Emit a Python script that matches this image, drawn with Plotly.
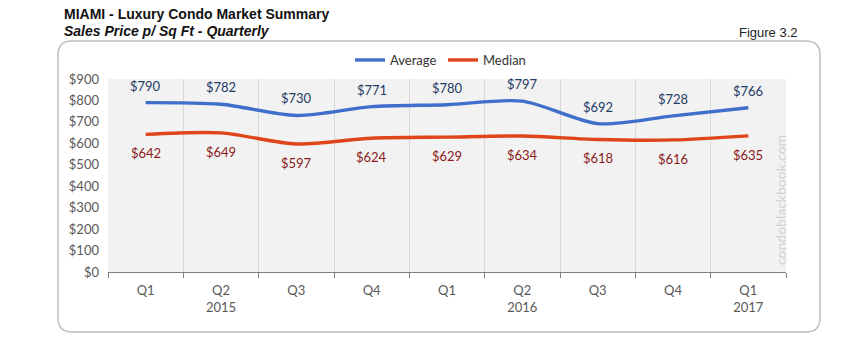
import plotly.graph_objects as go

quarters = ["Q1", "Q2", "Q3", "Q4", "Q1", "Q2", "Q3", "Q4", "Q1"]
years = ["", "2015", "", "", "", "2016", "", "", "2017"]
average = [790, 782, 730, 771, 780, 797, 692, 728, 766]
median = [642, 649, 597, 624, 629, 634, 618, 616, 635]

W, H = 856, 351
L, R, T, B = 108, 70, 79, 79
PW, PH = W - L - R, H - T - B

def px(xp):
    return (xp - L) / PW

def py(yp):
    return (H - B - yp) / PH

idx = list(range(len(quarters)))
ticktext = [q if not y else f"{q}<br>{y}" for q, y in zip(quarters, years)]

FONT = "Lato"
fig = go.Figure()
fig.add_trace(go.Scatter(x=idx, y=average, mode="lines", name="Average",
                         line=dict(color="#3F6FCB", width=3.4, shape="spline", smoothing=0.8),
                         cliponaxis=False))
fig.add_trace(go.Scatter(x=idx, y=median, mode="lines", name="Median",
                         line=dict(color="#E0441A", width=3.4, shape="spline", smoothing=0.8),
                         cliponaxis=False))

annotations = []
for i, v in enumerate(average):
    annotations.append(dict(x=i, y=v, xref="x", yref="y", text=f"${v}", showarrow=False,
                            yshift=17, font=dict(family=FONT, size=13, color="#1F3A64")))
for i, v in enumerate(median):
    annotations.append(dict(x=i, y=v, xref="x", yref="y", text=f"${v}", showarrow=False,
                            yshift=-19, font=dict(family=FONT, size=13, color="#8B1A1A")))

annotations += [
    dict(x=px(62), y=py(14), xref="paper", yref="paper", xanchor="left", yanchor="middle",
         text="<b>MIAMI - Luxury Condo Market Summary</b>", showarrow=False,
         font=dict(family="Liberation Sans", size=14, color="#111111")),
    dict(x=px(62), y=py(31), xref="paper", yref="paper", xanchor="left", yanchor="middle",
         text="<b><i>Sales Price p/ Sq Ft - Quarterly</i></b>", showarrow=False,
         font=dict(family="Liberation Sans", size=14, color="#111111")),
    dict(x=px(800), y=py(32), xref="paper", yref="paper", xanchor="right", yanchor="middle",
         text="Figure 3.2", showarrow=False,
         font=dict(family="Liberation Sans", size=13, color="#222222")),
    dict(x=px(780), y=py(200), xref="paper", yref="paper", xanchor="center", yanchor="middle",
         text="condoblackbook.com", textangle=-90, showarrow=False,
         font=dict(family=FONT, size=14, color="#D3D3D3")),
]

# rounded outer frame
x0, x1, y0, y1 = px(58), px(820), py(41), py(332)
rx, ry = 14 / PW, 14 / PH
path = (f"M {x0+rx},{y0} L {x1-rx},{y0} Q {x1},{y0} {x1},{y0-ry} "
        f"L {x1},{y1+ry} Q {x1},{y1} {x1-rx},{y1} L {x0+rx},{y1} Q {x0},{y1} {x0},{y1+ry} "
        f"L {x0},{y0-ry} Q {x0},{y0} {x0+rx},{y0} Z")
shapes = [dict(type="path", path=path, xref="paper", yref="paper",
               line=dict(color="#BFBFBF", width=1.5), layer="below")]

fig.update_layout(
    width=W, height=H,
    margin=dict(l=L, r=R, t=T, b=B),
    paper_bgcolor="white", plot_bgcolor="#F2F2F2",
    showlegend=True,
    legend=dict(orientation="h", x=px(350), y=py(60), xanchor="left", yanchor="middle",
                font=dict(family=FONT, size=13, color="#333333"), bgcolor="rgba(0,0,0,0)",
                itemwidth=30, tracegroupgap=0, entrywidth=48),
    xaxis=dict(range=[-0.5, len(quarters) - 0.5], tickmode="array", tickvals=idx, ticktext=ticktext,
               showgrid=False, zeroline=False, ticks="", showline=True, linecolor="#808080", linewidth=1.2,
               tickfont=dict(family=FONT, size=13, color="#595959"), ticklabelstandoff=6,
               minor=dict(tick0=-0.5, dtick=1, showgrid=True, gridcolor="#D9D9D9", gridwidth=1,
                          ticks="outside", ticklen=5, tickcolor="#808080")),
    yaxis=dict(range=[0, 900], dtick=100, tickprefix="$", showgrid=False, zeroline=False,
               showline=False, ticks="", tickfont=dict(family=FONT, size=13, color="#595959"),
               ticklabelstandoff=8),
    annotations=annotations,
    shapes=shapes,
)

fig.write_html("out.html")
